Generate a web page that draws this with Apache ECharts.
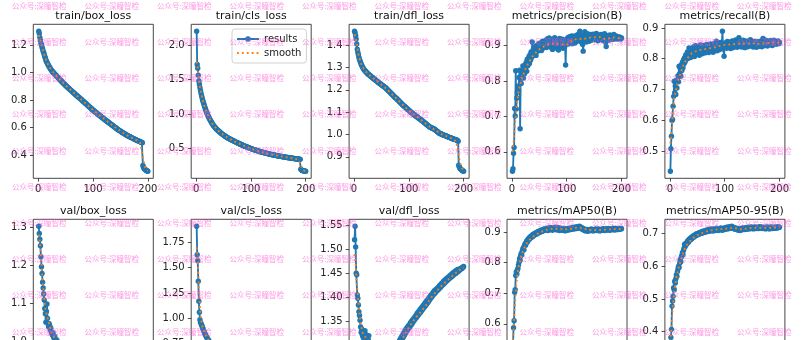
<!DOCTYPE html>
<html><head><meta charset="utf-8">
<script src="https://cdn.jsdelivr.net/npm/echarts@6/dist/echarts.min.js"></script>
<style>html,body{margin:0;padding:0;background:#fff}#c{width:801px;height:340px}</style>
</head><body><div id="c"></div>
<script>
// ---------------- data ----------------
const titles = ['train/box_loss','train/cls_loss','train/dfl_loss','metrics/precision(B)','metrics/recall(B)',
                'val/box_loss','val/cls_loss','val/dfl_loss','metrics/mAP50(B)','metrics/mAP50-95(B)'];
const xTicks = ['0','100','200'];
const epochCount = 200;

const trainBoxLoss = [1.300,1.284,1.256,1.236,1.214,1.201,1.184,1.171,1.155,1.146,
1.131,1.117,1.106,1.091,1.083,1.073,1.066,1.057,1.051,1.043,
1.038,1.030,1.025,1.018,1.014,1.007,1.004,0.997,0.995,0.989,
0.986,0.981,0.979,0.972,0.969,0.965,0.960,0.957,0.951,0.948,
0.944,0.939,0.936,0.930,0.928,0.923,0.919,0.915,0.911,0.907,
0.903,0.900,0.895,0.893,0.888,0.885,0.881,0.878,0.873,0.871,
0.867,0.862,0.860,0.855,0.853,0.848,0.845,0.841,0.838,0.834,
0.832,0.827,0.825,0.820,0.818,0.814,0.811,0.806,0.804,0.799,
0.796,0.792,0.789,0.785,0.782,0.777,0.775,0.770,0.768,0.763,
0.760,0.755,0.753,0.748,0.746,0.741,0.739,0.735,0.731,0.728,
0.725,0.721,0.718,0.714,0.712,0.708,0.705,0.702,0.698,0.696,
0.692,0.689,0.686,0.682,0.680,0.676,0.673,0.670,0.666,0.664,
0.660,0.657,0.654,0.651,0.648,0.645,0.642,0.639,0.636,0.633,
0.630,0.627,0.624,0.621,0.618,0.615,0.612,0.609,0.606,0.603,
0.600,0.597,0.594,0.591,0.588,0.585,0.582,0.580,0.577,0.575,
0.572,0.569,0.567,0.564,0.562,0.559,0.557,0.554,0.552,0.549,
0.547,0.545,0.543,0.540,0.538,0.536,0.534,0.532,0.530,0.528,
0.526,0.524,0.522,0.520,0.518,0.516,0.514,0.512,0.510,0.508,
0.506,0.505,0.503,0.501,0.499,0.498,0.496,0.494,0.492,0.490,
0.325,0.312,0.305,0.300,0.296,0.292,0.290,0.287,0.285,0.283];

const trainClsLoss = [2.200,1.720,1.665,1.562,1.480,1.432,1.384,1.341,1.302,1.266,
1.232,1.200,1.176,1.150,1.124,1.099,1.076,1.053,1.031,1.010,
0.992,0.973,0.955,0.940,0.924,0.910,0.895,0.882,0.868,0.856,
0.843,0.831,0.822,0.812,0.803,0.794,0.785,0.776,0.769,0.761,
0.754,0.747,0.740,0.732,0.726,0.720,0.713,0.707,0.702,0.696,
0.690,0.685,0.679,0.674,0.668,0.663,0.657,0.653,0.649,0.645,
0.641,0.637,0.632,0.628,0.624,0.620,0.616,0.612,0.608,0.605,
0.601,0.597,0.593,0.589,0.586,0.582,0.578,0.574,0.570,0.567,
0.563,0.559,0.555,0.552,0.548,0.545,0.541,0.538,0.535,0.531,
0.528,0.525,0.521,0.518,0.515,0.512,0.509,0.506,0.503,0.500,
0.497,0.494,0.491,0.488,0.485,0.483,0.480,0.478,0.475,0.473,
0.470,0.468,0.465,0.463,0.460,0.458,0.455,0.453,0.450,0.448,
0.446,0.444,0.442,0.440,0.438,0.436,0.434,0.432,0.430,0.428,
0.426,0.424,0.422,0.420,0.418,0.416,0.414,0.412,0.411,0.409,
0.407,0.406,0.404,0.402,0.401,0.399,0.398,0.396,0.394,0.393,
0.391,0.390,0.388,0.387,0.386,0.384,0.383,0.381,0.380,0.379,
0.377,0.376,0.375,0.373,0.372,0.371,0.370,0.368,0.367,0.366,
0.365,0.363,0.362,0.361,0.360,0.359,0.358,0.356,0.355,0.354,
0.353,0.352,0.351,0.350,0.349,0.348,0.347,0.346,0.345,0.343,
0.200,0.191,0.186,0.182,0.179,0.177,0.175,0.173,0.172,0.170];

const trainDflLoss = [1.462,1.455,1.442,1.427,1.405,1.382,1.368,1.357,1.346,1.337,
1.329,1.322,1.316,1.310,1.305,1.300,1.296,1.292,1.289,1.285,
1.283,1.280,1.278,1.275,1.272,1.270,1.268,1.266,1.264,1.262,
1.260,1.258,1.256,1.254,1.252,1.250,1.248,1.246,1.244,1.242,
1.240,1.238,1.236,1.234,1.232,1.231,1.229,1.227,1.225,1.223,
1.221,1.219,1.217,1.216,1.214,1.212,1.210,1.208,1.206,1.203,
1.201,1.198,1.196,1.193,1.191,1.188,1.186,1.183,1.181,1.178,
1.176,1.173,1.171,1.168,1.166,1.164,1.162,1.160,1.157,1.155,
1.152,1.150,1.147,1.145,1.142,1.140,1.137,1.135,1.132,1.130,
1.128,1.126,1.124,1.122,1.120,1.117,1.115,1.113,1.111,1.108,
1.106,1.104,1.102,1.100,1.098,1.096,1.094,1.092,1.090,1.088,
1.086,1.084,1.082,1.080,1.079,1.077,1.075,1.073,1.071,1.070,
1.068,1.066,1.064,1.062,1.060,1.058,1.056,1.054,1.052,1.050,
1.048,1.046,1.044,1.042,1.040,1.038,1.036,1.034,1.032,1.031,
1.030,1.029,1.028,1.027,1.026,1.025,1.023,1.021,1.019,1.017,
1.015,1.013,1.011,1.009,1.007,1.005,1.004,1.003,1.002,1.001,
1.000,0.999,0.998,0.997,0.996,0.995,0.994,0.993,0.992,0.991,
0.990,0.989,0.988,0.987,0.986,0.985,0.984,0.983,0.982,0.981,
0.980,0.979,0.979,0.978,0.977,0.976,0.975,0.974,0.972,0.970,
0.862,0.855,0.850,0.847,0.844,0.842,0.840,0.838,0.836,0.835];

const precision = [0.545,0.552,0.596,0.612,0.722,0.701,0.829,0.721,0.752,0.768,
0.785,0.772,0.810,0.830,0.665,0.806,0.793,0.826,0.815,0.842,
0.808,0.831,0.820,0.845,0.835,0.852,0.827,0.861,0.843,0.855,
0.868,0.849,0.874,0.858,0.882,0.866,0.910,0.871,0.889,0.876,
0.893,0.880,0.897,0.872,0.889,0.901,0.884,0.895,0.905,0.887,
0.899,0.892,0.908,0.886,0.902,0.912,0.893,0.904,0.896,0.910,
0.901,0.915,0.894,0.906,0.919,0.898,0.909,0.921,0.902,0.912,
0.895,0.908,0.917,0.889,0.905,0.914,0.900,0.922,0.893,0.907,
0.911,0.898,0.916,0.904,0.887,0.909,0.920,0.901,0.913,0.896,
0.906,0.918,0.892,0.911,0.903,0.915,0.899,0.845,0.908,0.917,
0.910,0.922,0.904,0.916,0.925,0.908,0.919,0.912,0.927,0.905,
0.918,0.926,0.911,0.921,0.907,0.924,0.915,0.929,0.912,0.920,
0.931,0.916,0.925,0.940,0.913,0.922,0.909,0.928,0.903,0.884,
0.918,0.930,0.939,0.914,0.926,0.910,0.921,0.933,0.917,0.925,
0.912,0.928,0.920,0.931,0.915,0.924,0.918,0.932,0.921,0.927,
0.916,0.929,0.922,0.934,0.919,0.926,0.913,0.930,0.921,0.928,
0.917,0.925,0.931,0.920,0.927,0.914,0.929,0.922,0.933,0.918,
0.909,0.897,0.916,0.925,0.920,0.928,0.915,0.923,0.930,0.919,
0.926,0.921,0.917,0.928,0.922,0.931,0.918,0.925,0.920,0.927,
0.922,0.918,0.925,0.921,0.919,0.924,0.920,0.923,0.918,0.921];

const recall = [0.435,0.508,0.549,0.600,0.603,0.646,0.678,0.727,0.690,0.712,
0.684,0.730,0.705,0.732,0.745,0.725,0.776,0.752,0.768,0.743,
0.780,0.762,0.789,0.771,0.797,0.784,0.803,0.790,0.812,0.798,
0.808,0.822,0.801,0.815,0.835,0.810,0.826,0.804,0.829,0.818,
0.832,0.812,0.838,0.821,0.807,0.830,0.842,0.813,0.827,0.836,
0.818,0.840,0.825,0.811,0.833,0.845,0.822,0.837,0.816,0.831,
0.843,0.826,0.834,0.819,0.838,0.828,0.846,0.823,0.835,0.841,
0.820,0.836,0.829,0.848,0.825,0.839,0.832,0.844,0.821,0.837,
0.850,0.830,0.842,0.835,0.857,0.826,0.843,0.838,0.851,0.829,
0.845,0.836,0.853,0.832,0.848,0.889,0.841,0.835,0.808,0.847,
0.838,0.852,0.843,0.834,0.856,0.840,0.849,0.837,0.854,0.844,
0.833,0.851,0.842,0.858,0.836,0.848,0.855,0.839,0.846,0.861,
0.843,0.850,0.837,0.857,0.845,0.868,0.852,0.840,0.856,0.847,
0.838,0.853,0.845,0.860,0.842,0.851,0.836,0.849,0.857,0.844,
0.850,0.839,0.858,0.846,0.853,0.841,0.862,0.848,0.855,0.843,
0.851,0.838,0.847,0.856,0.842,0.853,0.846,0.837,0.849,0.855,
0.843,0.852,0.840,0.848,0.857,0.845,0.851,0.839,0.854,0.866,
0.847,0.856,0.843,0.852,0.860,0.846,0.853,0.841,0.858,0.849,
0.855,0.845,0.852,0.859,0.848,0.854,0.843,0.857,0.851,0.860,
0.849,0.856,0.852,0.847,0.855,0.850,0.858,0.853,0.849,0.854];

const valBoxLoss = [1.302,1.283,1.268,1.251,1.222,1.196,1.178,1.155,1.140,1.124,
1.108,1.086,1.072,1.050,1.078,1.098,1.060,1.045,1.038,1.046,
1.041,1.030,1.034,1.025,1.020,1.016,1.022,1.012,1.008,1.013,
1.005,1.001,0.997,1.003,0.994,0.990,0.995,0.986,0.983,0.988,
0.980,0.977,0.982,0.974,0.971,0.976,0.968,0.966,0.970,0.963,
0.961,0.965,0.958,0.956,0.960,0.953,0.951,0.955,0.949,0.947,
0.951,0.945,0.943,0.947,0.941,0.940,0.944,0.938,0.937,0.941,
0.936,0.935,0.939,0.934,0.937,0.935,0.938,0.934,0.936,0.939,
0.935,0.938,0.941,0.937,0.940,0.943,0.939,0.942,0.945,0.941,
0.944,0.947,0.943,0.946,0.949,0.945,0.948,0.951,0.947,0.950,
0.950,0.947,0.951,0.953,0.949,0.952,0.955,0.951,0.954,0.956,
0.952,0.955,0.958,0.954,0.957,0.959,0.955,0.958,0.960,0.957,
0.960,0.962,0.958,0.961,0.963,0.959,0.962,0.964,0.961,0.963,
0.966,0.962,0.965,0.967,0.963,0.966,0.968,0.965,0.967,0.970,
0.966,0.969,0.971,0.967,0.970,0.972,0.968,0.971,0.973,0.970,
0.972,0.975,0.971,0.974,0.976,0.972,0.975,0.977,0.973,0.976,
0.978,0.974,0.977,0.979,0.975,0.978,0.980,0.976,0.979,0.981,
0.977,0.980,0.982,0.978,0.981,0.983,0.979,0.982,0.984,0.980,
0.983,0.985,0.981,0.984,0.986,0.982,0.985,0.987,0.983,0.986,
0.979,0.981,0.983,0.980,0.982,0.984,0.981,0.983,0.985,0.982];

const valClsLoss = [1.908,1.627,1.568,1.365,1.168,1.060,0.985,0.960,0.948,0.934,
0.921,0.905,0.891,0.876,0.863,0.850,0.839,0.826,0.815,0.806,
0.796,0.788,0.779,0.772,0.764,0.757,0.751,0.745,0.739,0.733,
0.728,0.722,0.718,0.713,0.708,0.704,0.700,0.696,0.692,0.688,
0.684,0.681,0.677,0.674,0.671,0.668,0.665,0.662,0.659,0.656,
0.654,0.651,0.649,0.646,0.644,0.642,0.639,0.637,0.635,0.633,
0.631,0.629,0.627,0.625,0.623,0.621,0.619,0.618,0.616,0.614,
0.613,0.611,0.610,0.608,0.607,0.605,0.604,0.602,0.601,0.600,
0.598,0.597,0.596,0.594,0.593,0.592,0.591,0.590,0.588,0.587,
0.586,0.585,0.584,0.583,0.582,0.581,0.580,0.579,0.578,0.577,
0.576,0.575,0.574,0.574,0.573,0.572,0.571,0.570,0.570,0.569,
0.568,0.567,0.567,0.566,0.565,0.565,0.564,0.563,0.563,0.562,
0.561,0.561,0.560,0.560,0.559,0.558,0.558,0.557,0.557,0.556,
0.556,0.555,0.555,0.554,0.554,0.553,0.553,0.552,0.552,0.551,
0.551,0.550,0.550,0.549,0.549,0.549,0.548,0.548,0.547,0.547,
0.546,0.546,0.546,0.545,0.545,0.545,0.544,0.544,0.543,0.543,
0.543,0.542,0.542,0.542,0.541,0.541,0.541,0.540,0.540,0.540,
0.539,0.539,0.539,0.538,0.538,0.538,0.537,0.537,0.537,0.536,
0.536,0.536,0.536,0.535,0.535,0.535,0.534,0.534,0.534,0.534,
0.532,0.531,0.530,0.529,0.529,0.528,0.527,0.527,0.526,0.526];

const valDflLoss = [1.520,1.548,1.505,1.450,1.447,1.405,1.398,1.384,1.370,1.362,
1.352,1.338,1.327,1.334,1.322,1.318,1.328,1.312,1.319,1.330,
1.315,1.322,1.308,1.318,1.305,1.312,1.320,1.300,1.296,1.305,
1.292,1.287,1.296,1.283,1.279,1.288,1.275,1.271,1.280,1.268,
1.274,1.265,1.270,1.262,1.268,1.260,1.265,1.258,1.263,1.257,
1.261,1.256,1.262,1.258,1.264,1.257,1.266,1.260,1.268,1.262,
1.270,1.264,1.273,1.267,1.276,1.270,1.279,1.274,1.283,1.277,
1.286,1.281,1.290,1.284,1.294,1.288,1.298,1.292,1.302,1.296,
1.306,1.300,1.310,1.304,1.314,1.309,1.318,1.313,1.322,1.317,
1.326,1.321,1.330,1.325,1.334,1.329,1.337,1.332,1.340,1.336,
1.343,1.338,1.347,1.342,1.350,1.345,1.353,1.349,1.356,1.352,
1.359,1.355,1.362,1.358,1.366,1.361,1.369,1.364,1.372,1.367,
1.375,1.370,1.378,1.373,1.381,1.376,1.384,1.379,1.387,1.382,
1.390,1.385,1.393,1.388,1.396,1.391,1.399,1.395,1.402,1.398,
1.405,1.401,1.408,1.404,1.411,1.407,1.414,1.409,1.416,1.412,
1.418,1.414,1.420,1.416,1.423,1.419,1.425,1.421,1.428,1.424,
1.430,1.426,1.433,1.428,1.435,1.431,1.437,1.433,1.439,1.435,
1.441,1.437,1.443,1.439,1.445,1.441,1.447,1.443,1.449,1.445,
1.451,1.447,1.453,1.449,1.455,1.450,1.456,1.452,1.458,1.454,
1.455,1.457,1.459,1.458,1.460,1.461,1.460,1.462,1.463,1.464];

const mAP50 = [0.461,0.530,0.587,0.610,0.703,0.712,0.758,0.770,0.763,0.776,
0.781,0.792,0.801,0.814,0.808,0.823,0.830,0.826,0.838,0.845,
0.849,0.842,0.856,0.861,0.857,0.866,0.871,0.867,0.876,0.873,
0.880,0.877,0.884,0.881,0.887,0.883,0.890,0.886,0.893,0.889,
0.895,0.891,0.897,0.893,0.899,0.895,0.901,0.897,0.903,0.899,
0.904,0.900,0.906,0.902,0.907,0.903,0.909,0.905,0.910,0.906,
0.911,0.907,0.912,0.908,0.913,0.905,0.911,0.914,0.908,0.912,
0.915,0.909,0.913,0.906,0.911,0.914,0.909,0.912,0.916,0.910,
0.913,0.907,0.911,0.915,0.909,0.912,0.905,0.910,0.913,0.908,
0.911,0.906,0.909,0.912,0.907,0.910,0.904,0.908,0.911,0.906,
0.909,0.912,0.907,0.910,0.913,0.908,0.911,0.914,0.909,0.912,
0.915,0.910,0.913,0.916,0.911,0.914,0.917,0.912,0.915,0.918,
0.913,0.916,0.919,0.914,0.917,0.912,0.915,0.910,0.913,0.908,
0.911,0.906,0.909,0.904,0.908,0.905,0.909,0.903,0.907,0.904,
0.908,0.905,0.909,0.906,0.910,0.905,0.908,0.904,0.907,0.905,
0.909,0.906,0.910,0.907,0.905,0.909,0.906,0.910,0.907,0.904,
0.908,0.905,0.909,0.906,0.910,0.907,0.911,0.908,0.905,0.909,
0.906,0.910,0.907,0.911,0.908,0.912,0.909,0.906,0.910,0.907,
0.911,0.908,0.912,0.909,0.913,0.910,0.907,0.911,0.908,0.912,
0.909,0.911,0.908,0.910,0.912,0.909,0.911,0.910,0.912,0.911];

const mAP5095 = [0.294,0.382,0.407,0.478,0.494,0.508,0.534,0.528,0.554,0.549,
0.562,0.574,0.569,0.584,0.592,0.600,0.596,0.610,0.620,0.614,
0.628,0.633,0.641,0.636,0.648,0.655,0.667,0.660,0.665,0.671,
0.668,0.675,0.678,0.673,0.682,0.679,0.685,0.681,0.688,0.684,
0.690,0.687,0.693,0.689,0.695,0.692,0.697,0.694,0.699,0.696,
0.700,0.697,0.702,0.699,0.703,0.700,0.704,0.701,0.706,0.702,
0.707,0.703,0.708,0.704,0.709,0.705,0.708,0.711,0.706,0.709,
0.712,0.707,0.710,0.713,0.708,0.711,0.714,0.709,0.712,0.708,
0.711,0.714,0.710,0.713,0.716,0.711,0.714,0.709,0.712,0.715,
0.711,0.714,0.717,0.712,0.715,0.710,0.713,0.716,0.712,0.715,
0.718,0.713,0.716,0.719,0.714,0.717,0.720,0.715,0.718,0.721,
0.716,0.719,0.722,0.717,0.720,0.715,0.718,0.714,0.717,0.713,
0.716,0.712,0.715,0.711,0.714,0.710,0.713,0.709,0.712,0.715,
0.711,0.714,0.717,0.713,0.716,0.712,0.715,0.718,0.714,0.717,
0.713,0.716,0.719,0.715,0.718,0.714,0.717,0.720,0.716,0.719,
0.715,0.718,0.714,0.717,0.720,0.716,0.719,0.715,0.718,0.716,
0.719,0.715,0.718,0.721,0.717,0.720,0.716,0.719,0.715,0.718,
0.716,0.719,0.715,0.718,0.714,0.717,0.720,0.716,0.719,0.715,
0.718,0.714,0.717,0.720,0.716,0.719,0.715,0.718,0.716,0.719,
0.717,0.719,0.716,0.718,0.720,0.717,0.719,0.718,0.720,0.719];

// smoothed curves (orange dotted), read at these epochs
const smoothEpochs = [1,3,5,8,12,16,20,25,30,40,50,60,70,80,90,100,110,120,130,140,150,160,170,180,186,189,191,193,196,200];
const trainBoxSmooth = [1.272,1.252,1.220,1.172,1.119,1.074,1.044,1.014,0.990,0.948,0.907,0.871,0.834,0.799,0.763,0.728,0.696,0.664,0.633,0.603,0.575,0.549,0.528,0.508,0.488,0.432,0.385,0.340,0.302,0.288];
const trainClsSmooth = [1.760,1.660,1.500,1.350,1.200,1.100,1.015,0.925,0.857,0.762,0.697,0.645,0.605,0.567,0.532,0.500,0.473,0.448,0.428,0.409,0.393,0.379,0.366,0.354,0.338,0.300,0.265,0.225,0.185,0.174];
const trainDflSmooth = [1.448,1.435,1.410,1.360,1.323,1.300,1.286,1.272,1.262,1.242,1.223,1.203,1.178,1.155,1.130,1.108,1.088,1.070,1.050,1.031,1.017,1.001,0.991,0.981,0.969,0.937,0.905,0.878,0.851,0.840];
const precisionSmooth = [0.600,0.625,0.665,0.720,0.770,0.795,0.815,0.835,0.850,0.875,0.889,0.899,0.905,0.905,0.904,0.902,0.914,0.919,0.918,0.922,0.923,0.924,0.918,0.921,0.923,0.923,0.922,0.922,0.921,0.920];
const recallSmooth = [0.525,0.560,0.615,0.670,0.705,0.735,0.755,0.780,0.797,0.818,0.826,0.830,0.833,0.836,0.841,0.845,0.846,0.848,0.850,0.849,0.850,0.848,0.850,0.851,0.852,0.853,0.853,0.852,0.852,0.852];
const valBoxSmooth = [1.280,1.260,1.225,1.160,1.095,1.066,1.045,1.022,1.008,0.987,0.968,0.952,0.940,0.936,0.941,0.948,0.953,0.958,0.962,0.966,0.970,0.975,0.978,0.981,0.984,0.984,0.983,0.982,0.982,0.983];
const valClsSmooth = [1.700,1.560,1.300,1.020,0.905,0.851,0.806,0.765,0.734,0.688,0.656,0.633,0.614,0.600,0.587,0.577,0.569,0.562,0.556,0.551,0.547,0.543,0.540,0.536,0.535,0.533,0.532,0.530,0.528,0.527];
const valDflSmooth = [1.490,1.470,1.430,1.390,1.345,1.325,1.318,1.312,1.302,1.276,1.262,1.261,1.274,1.295,1.317,1.337,1.354,1.367,1.381,1.398,1.412,1.424,1.435,1.445,1.451,1.454,1.456,1.458,1.460,1.462];
const mAP50Smooth = [0.530,0.580,0.650,0.730,0.785,0.815,0.838,0.857,0.871,0.887,0.898,0.906,0.910,0.911,0.910,0.909,0.911,0.915,0.912,0.907,0.907,0.907,0.908,0.909,0.910,0.910,0.910,0.910,0.910,0.910];
const mAP5095Smooth = [0.370,0.410,0.470,0.520,0.565,0.594,0.618,0.645,0.663,0.683,0.695,0.702,0.708,0.711,0.713,0.714,0.717,0.716,0.713,0.715,0.717,0.717,0.717,0.717,0.717,0.718,0.718,0.718,0.718,0.719];

// y tick labels of each panel
const yTicksTrainBox = ['0.4','0.6','0.8','1.0','1.2'];
const yTicksTrainCls = ['0.5','1.0','1.5','2.0'];
const yTicksTrainDfl = ['0.9','1.0','1.1','1.2','1.3','1.4'];
const yTicksPrecision = ['0.6','0.7','0.8','0.9'];
const yTicksRecall = ['0.5','0.6','0.7','0.8','0.9'];
const yTicksValBox = ['1.0','1.1','1.2','1.3'];
const yTicksValCls = ['0.50','0.75','1.00','1.25','1.50','1.75'];
const yTicksValDfl = ['1.25','1.30','1.35','1.40','1.45','1.50','1.55'];
const yTicksMAP50 = ['0.5','0.6','0.7','0.8','0.9'];
const yTicksMAP5095 = ['0.3','0.4','0.5','0.6','0.7'];

const watermarkText = '公众号:深瞳智检';

// ---------------- chart ----------------
const panels = [
  [trainBoxLoss, trainBoxSmooth, yTicksTrainBox],
  [trainClsLoss, trainClsSmooth, yTicksTrainCls],
  [trainDflLoss, trainDflSmooth, yTicksTrainDfl],
  [precision, precisionSmooth, yTicksPrecision],
  [recall, recallSmooth, yTicksRecall],
  [valBoxLoss, valBoxSmooth, yTicksValBox],
  [valClsLoss, valClsSmooth, yTicksValCls],
  [valDflLoss, valDflSmooth, yTicksValDfl],
  [mAP50, mAP50Smooth, yTicksMAP50],
  [mAP5095, mAP5095Smooth, yTicksMAP5095]
];
const epochs = [];
for (let e = 1; e <= epochCount; e++) epochs.push(e);

const W = 120, H = 154, L0 = 33.3, DX = 157.9, TOPS = [24.3, 219.3];
const FONT = '"DejaVu Sans", "Liberation Sans", sans-serif';
const xVals = xTicks.map(Number);
const xSpan = epochs[epochs.length - 1] - epochs[0];
const xMin = epochs[0] - 0.05 * xSpan, xMax = epochs[epochs.length - 1] + 0.05 * xSpan;

const grids = [], xAxes = [], yAxes = [], series = [], graphics = [];
panels.forEach(([res, sm, yt], i) => {
  const r = Math.floor(i / 5), c = i % 5;
  const left = L0 + c * DX, top = TOPS[r];
  grids.push({left, top, width: W, height: H, show: true, borderColor: '#333', borderWidth: 0.9,
              containLabel: false, outerBoundsMode: 'none'});
  const all = res.concat(sm);
  const lo = Math.min(...all), hi = Math.max(...all), m = 0.05 * (hi - lo);
  const yVals = yt.map(Number);
  const yMap = {}; yt.forEach(s => { yMap[Number(s)] = s; });
  const tickStyle = {show: true, length: 3.3, inside: false, lineStyle: {color: '#222', width: 0.8}};
  xAxes.push({gridIndex: i, type: 'value', min: xMin, max: xMax,
    axisLine: {show: false, onZero: false}, splitLine: {show: false},
    axisTick: Object.assign({customValues: xVals}, tickStyle),
    axisLabel: {customValues: xVals, formatter: v => String(v), margin: 6.5, color: '#222', fontSize: 10, fontFamily: FONT}});
  yAxes.push({gridIndex: i, type: 'value', min: lo - m, max: hi + m,
    axisLine: {show: false, onZero: false}, splitLine: {show: false},
    axisTick: Object.assign({customValues: yVals}, tickStyle),
    axisLabel: {customValues: yVals, formatter: v => (yMap[v] !== undefined ? yMap[v] : ''), margin: 6.5, color: '#222', fontSize: 10, fontFamily: FONT}});
  series.push({name: 'results', type: 'line', xAxisIndex: i, yAxisIndex: i,
    data: epochs.map((e, k) => [e, res[k]]),
    symbol: 'circle', symbolSize: 5.4, showSymbol: true,
    itemStyle: {color: '#1f77b4'}, lineStyle: {color: '#1f77b4', width: 1.85},
    z: 2, silent: true, animation: false});
  series.push({name: 'smooth', type: 'line', xAxisIndex: i, yAxisIndex: i,
    data: smoothEpochs.map((e, k) => [e, sm[k]]),
    symbol: 'none', smooth: false,
    itemStyle: {color: '#ff7f0e'}, lineStyle: {color: '#ff7f0e', width: 1.85, type: [1.85, 3.05]},
    z: 3, silent: true, animation: false});
  graphics.push({type: 'text', x: left + W / 2, y: top - 8.5, z: 50, silent: true,
    style: {text: titles[i], fill: '#111', font: '11px ' + FONT, textAlign: 'center', textVerticalAlign: 'middle'}});
});

for (let rr = 0; rr < 10; rr++) {
  for (let cc = 0; cc < 11; cc++) {
    graphics.push({type: 'text', x: 12 + 72.5 * cc, y: 6 + 36.2 * rr, z: 100, silent: true,
      style: {text: watermarkText, fill: 'rgba(255,80,210,0.6)', font: '7.5px "Noto Sans CJK SC", sans-serif',
              textAlign: 'left', textVerticalAlign: 'middle'}});
  }
}

const chart = echarts.init(document.getElementById('c'), null, {renderer: 'canvas'});
chart.setOption({
  animation: false,
  backgroundColor: '#ffffff',
  grid: grids, xAxis: xAxes, yAxis: yAxes, series,
  legend: {data: [{name: 'results'}, {name: 'smooth', itemStyle: {opacity: 0}}],
    orient: 'vertical', left: 232, top: 29,
    itemWidth: 22, itemHeight: 7, itemGap: 4, padding: [5, 5, 5, 4],
    borderColor: '#cccccc', borderWidth: 0.9, borderRadius: 3, backgroundColor: 'rgba(255,255,255,0.8)',
    selectedMode: false, textStyle: {fontFamily: FONT, fontSize: 10, color: '#222'}},
  graphic: graphics
});
</script>
</body></html>
